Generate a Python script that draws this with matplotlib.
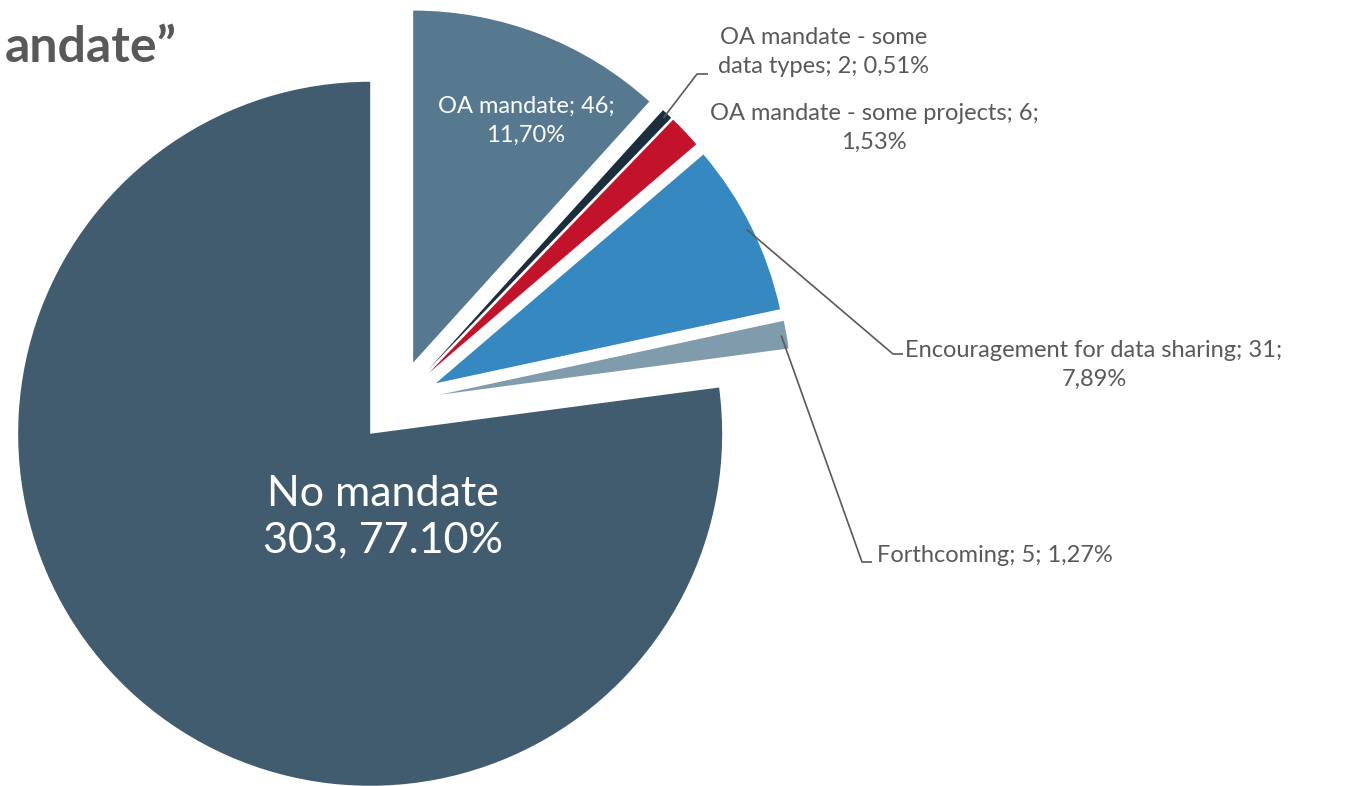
import numpy as np
import matplotlib
matplotlib.use("Agg")
import matplotlib.pyplot as plt

# Funder data-sharing policies
categories = [
    "OA mandate",
    "OA mandate - some data types",
    "OA mandate - some projects",
    "Encouragement for data sharing",
    "Forthcoming",
    "No mandate",
]
counts = [46, 2, 6, 31, 5, 303]
pct_labels = ["11,70%", "0,51%", "1,53%", "7,89%", "1,27%", "77.10%"]
colors = ["#56798F", "#1A2E3B", "#C3132B", "#3689C0", "#7F9BAC", "#415C6E"]

W, H = 1351, 786
plt.rcParams["font.family"] = ["Lato", "DejaVu Sans"]
GRAY = "#595959"

fig = plt.figure(figsize=(W / 100, H / 100), dpi=100)
ax = fig.add_axes([0, 0, 1, 1])

R = 352
center = (398, H - 402)
# every slice pulled out by the same share of the radius
explode_frac = 0.12
wedges, _ = ax.pie(
    counts,
    colors=colors,
    startangle=90,
    counterclock=False,
    explode=[explode_frac * R] * len(counts),
    radius=R,
    center=center,
    frame=True,
    wedgeprops=dict(linewidth=0),
)
ax.set_xlim(0, W)
ax.set_ylim(0, H)
ax.set_aspect("equal")
ax.axis("off")


def arc_point(w, frac=1.0):
    """Point on a wedge at its mid-angle, frac of the radius from its apex."""
    a = np.deg2rad((w.theta1 + w.theta2) / 2)
    cx, cy = w.center
    return cx + frac * w.r * np.cos(a), cy + frac * w.r * np.sin(a)


FS = 17
# labels inside the slices
ax.text(526, H - 121, f"{categories[0]}; {counts[0]};\n{pct_labels[0]}",
        ha="center", va="center", color="white", fontsize=FS, linespacing=1.45)
ax.text(383, H - 517, f"{categories[5]}\n{counts[5]}, {pct_labels[5]}",
        ha="center", va="center", color="white", fontsize=31, linespacing=1.28)

# labels outside, some with leader lines
ax.text(824, H - 52, "OA mandate - some\ndata types; 2; 0,51%",
        ha="center", va="center", color=GRAY, fontsize=FS, linespacing=1.45)
ax.text(874, H - 128, f"{categories[2]}; {counts[2]};\n{pct_labels[2]}",
        ha="center", va="center", color=GRAY, fontsize=FS, linespacing=1.45)
ax.text(1094, H - 365, f"{categories[3]}; {counts[3]};\n{pct_labels[3]}",
        ha="center", va="center", color=GRAY, fontsize=FS, linespacing=1.45)
ax.text(877, H - 555, f"{categories[4]}; {counts[4]}; {pct_labels[4]}",
        ha="left", va="center", color=GRAY, fontsize=FS)

leaders = {
    1: [(697, H - 74), (708, H - 74)],
    3: [(893, H - 354), (903, H - 354)],
    4: [(862, H - 562), (872, H - 562)],
}
for i, pts in leaders.items():
    x0, y0 = arc_point(wedges[i], 0.985)
    xs = [x0] + [p[0] for p in pts]
    ys = [y0] + [p[1] for p in pts]
    ax.plot(xs, ys, color=GRAY, lw=1.2, solid_capstyle="butt")

# heading, running off the left edge
ax.text(5, H - 62, "andate\u201d", ha="left", va="baseline",
        color=GRAY, fontsize=36, fontweight="bold")

fig.savefig("out.png", dpi=100)
